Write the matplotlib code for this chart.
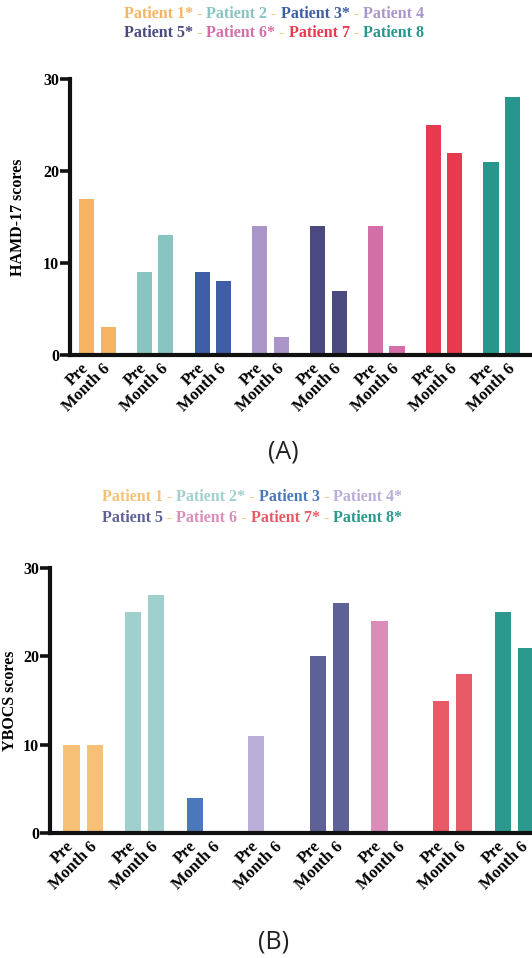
import numpy as np
import matplotlib
matplotlib.use("Agg")
import matplotlib.pyplot as plt
from matplotlib.offsetbox import TextArea, HPacker, AnchoredOffsetbox

# ---- data ----
patients = ["Patient 1", "Patient 2", "Patient 3", "Patient 4",
            "Patient 5", "Patient 6", "Patient 7", "Patient 8"]
timepoints = ["Pre", "Month 6"]

hamd_pre = [17, 9, 9, 14, 14, 14, 25, 21]
hamd_m6 = [3, 13, 8, 2, 7, 1, 22, 28]
hamd_starred = [True, False, True, False, True, True, False, False]

ybocs_pre = [10, 25, 4, 11, 20, 24, 15, 25]
ybocs_m6 = [10, 27, 0, 0, 26, 0, 18, 21]
ybocs_starred = [False, True, False, True, False, False, True, True]

y_ticks = [0, 10, 20, 30]

# ---- styles ----
colors_a = ["#F5B461", "#88C4C0", "#3E5EA8", "#AA96C8",
            "#4B4A80", "#D36FA8", "#E8394F", "#28968C"]
colors_b = ["#F6C077", "#A0D0CD", "#4A78BA", "#BBAED8",
            "#5E6196", "#DC8CB8", "#E85A66", "#2B998E"]
sep_color = "#F5B461"
serif = ["Liberation Serif", "DejaVu Serif"]

W, H = 532, 958
fig = plt.figure(figsize=(W / 100, H / 100), dpi=100)


def fx(px):
    return px / W


def fy(py):
    return 1 - py / H


def panel(rect, pre, m6, colors, step, xlim, ylabel, label_xy):
    ax = fig.add_axes(rect)
    n = len(pre)
    x_pre = np.arange(n) * step
    x_m6 = x_pre + 1
    ax.bar(x_pre, pre, width=0.7, color=colors, linewidth=0)
    ax.bar(x_m6, m6, width=0.7, color=colors, linewidth=0)
    ax.set_ylim(0, 30)
    ax.set_xlim(*xlim)
    ax.set_yticks(y_ticks)
    ax.set_yticklabels([str(t) for t in y_ticks], family=serif,
                       fontweight="bold", fontsize=11.5)
    ticks = np.ravel(np.column_stack([x_pre, x_m6]))
    ax.set_xticks(ticks)
    ax.set_xticklabels(timepoints * n, rotation=45, ha="right",
                       va="center", rotation_mode="anchor", family=serif,
                       fontweight="bold", fontsize=12)
    ax.tick_params(axis="x", length=0, pad=8)
    ax.tick_params(axis="y", length=7, width=2.6, pad=1, color="#111111")
    for s in ["top", "right"]:
        ax.spines[s].set_visible(False)
    for s in ["left", "bottom"]:
        ax.spines[s].set_linewidth(3)
        ax.spines[s].set_color("#111111")
        ax.spines[s].set_capstyle("projecting")
    ax.set_ylabel(ylabel, family=serif, fontweight="bold", fontsize=11.5,
                  va="center")
    ax.yaxis.set_label_coords(*label_xy)
    return ax


def legend_line(names, starred, colors, xc, yc):
    parts = []
    for i, (name, st, c) in enumerate(zip(names, starred, colors)):
        if i > 0:
            parts.append(TextArea(" - ", textprops=dict(
                color=sep_color, family=serif, fontsize=11.5)))
        parts.append(TextArea(name + ("*" if st else ""), textprops=dict(
            color=c, family=serif, fontweight="bold", fontsize=11.5)))
    box = HPacker(children=parts, align="baseline", pad=0, sep=0)
    anch = AnchoredOffsetbox(loc="center", child=box, pad=0, borderpad=0,
                             frameon=False, bbox_to_anchor=(fx(xc), fy(yc)),
                             bbox_transform=fig.transFigure)
    fig.add_artist(anch)


# ---- panel A: HAMD-17 ----
panel([fx(70), fy(355), fx(532 - 70), (355 - 79) / H],
      hamd_pre, hamd_m6, colors_a, 2.676, (-0.764, 20.63),
      "HAMD-17 scores", ((18.5 - 70) / 462, 0.5))
legend_line(patients[:4], hamd_starred[:4], colors_a[:4], 274, 14)
legend_line(patients[4:], hamd_starred[4:], colors_a[4:], 274, 33)
fig.text(fx(283), fy(452), "(A)", ha="center", va="center",
         family="Open Sans", fontsize=18, color="#222222")

# ---- panel B: YBOCS ----
panel([fx(50), fy(833), fx(532 - 50), (833 - 568) / H],
      ybocs_pre, ybocs_m6, colors_b, 2.655, (-0.927, 19.85),
      "YBOCS scores", ((10.5 - 50) / 482, 0.5))
legend_line(patients[:4], ybocs_starred[:4], colors_b[:4], 252, 497)
legend_line(patients[4:], ybocs_starred[4:], colors_b[4:], 252, 518)
fig.text(fx(274), fy(942), "(B)", ha="center", va="center",
         family="Open Sans", fontsize=18, color="#222222")

fig.savefig("out.png", dpi=100)
